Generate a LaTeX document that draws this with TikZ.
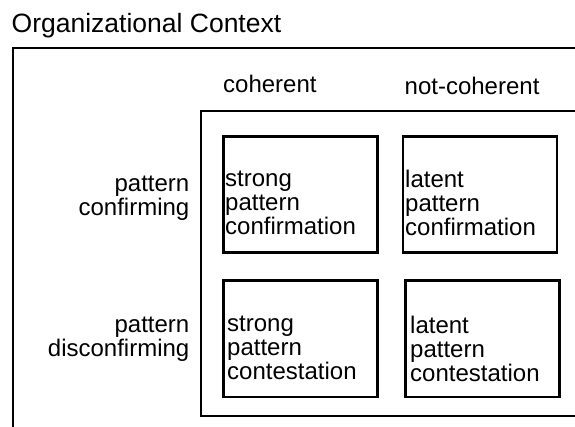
\documentclass[tikz,border=0pt]{standalone}
\usepackage{fontspec}
\setmainfont{Liberation Sans}
\begin{document}
\begin{tikzpicture}[x=1pt,y=-1pt,
  frame/.style={line width=2.8pt},
  cell/.style={draw,line width=2.8pt,minimum width=154pt,minimum height=116.5pt,
    inner sep=0pt,anchor=north west},
  body/.style={font=\fontsize{24}{24}\selectfont,inner sep=0pt},
  celltext/.style={body,text width=150pt,align=left,anchor=base west},
  rowlabel/.style={body,text width=160pt,align=right,anchor=base east},
  collabel/.style={body,anchor=base west}]
  \useasboundingbox (0,0) rectangle (575,427);
  \clip (0,0) rectangle (575,427);

  % title
  \node[font=\fontsize{26.5}{30}\selectfont,inner sep=0pt,anchor=base west]
    (title) at (11.5,32.3) {Organizational Context};

  % outer context frame, open towards the right and the bottom
  \draw[frame] (590,48) -- (13,48) -- (13,440);

  % inner frame holding the four cells
  \draw[frame] (590,111) -- (201,111) -- (201,416) -- (590,416);

  % column headings
  \node[collabel] (coh) at (223,92.7) {coherent};
  \node[collabel] (ncoh) at (404.5,95) {not-coherent};

  % row headings
  \node[rowlabel] (conf) at (189.5,192) {pattern\\confirming};
  \node[rowlabel] (disc) at (189.5,332) {pattern\\disconfirming};

  % the four cells
  \node[cell] (spcf) at (222,135) {};
  \node[cell] (lpcf) at (401.5,135) {};
  \node[cell] (spct) at (222,279) {};
  \node[cell] (lpct) at (404,279) {};

  \node[celltext] (spcftxt) at (225,186.7) {strong\\pattern\\confirmation};
  \node[celltext] (lpcftxt) at (405,187.5) {latent\\pattern\\confirmation};
  \node[celltext] (spcttxt) at (227,331.7) {strong\\pattern\\contestation};
  \node[celltext] (lpcttxt) at (410,333.3) {latent\\pattern\\contestation};
\end{tikzpicture}
\end{document}
